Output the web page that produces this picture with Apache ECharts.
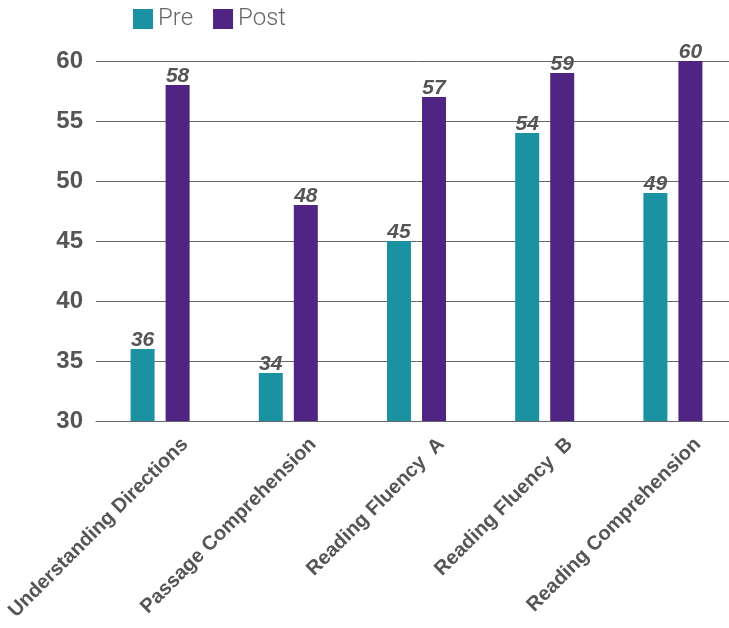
<!DOCTYPE html>
<html><head><meta charset="utf-8">
<script src="https://cdn.jsdelivr.net/npm/echarts@6/dist/echarts.min.js"></script>
<style>html,body{margin:0;padding:0;background:#fff;overflow:hidden}#c{width:737px;height:628px}</style>
</head><body><div id="c"></div>
<script>
const categories = ["Understanding Directions", "Passage Comprehension", "Reading Fluency  A", "Reading Fluency  B", "Reading Comprehension"];
const preValues = [36, 34, 45, 54, 49];
const postValues = [58, 48, 57, 59, 60];
const seriesNames = ["Pre", "Post"];

const chart = echarts.init(document.getElementById('c'), null, {renderer: 'canvas'});
const labelStyle = {show: true, position: 'top', distance: -2, fontFamily: 'Liberation Sans', fontWeight: 'bold', fontStyle: 'italic', fontSize: 21, color: '#555'};
chart.setOption({
  animation: false,
  legend: {
    left: 128, top: 2, itemWidth: 20, itemHeight: 20, itemGap: 20,
    icon: 'rect',
    textStyle: {fontFamily: 'Roboto', fontSize: 24, color: '#666', fontWeight: 300},
    data: seriesNames
  },
  grid: {left: 96, top: 61, right: 0, height: 360, containLabel: false},
  xAxis: {
    type: 'category', data: categories,
    axisLine: {lineStyle: {color: '#666', width: 1}},
    axisTick: {show: false},
    axisLabel: {interval: 0, rotate: 45, margin: 45, padding: [0, -35, 0, 0], fontFamily: 'Liberation Sans', fontWeight: 'bold', fontSize: 20, color: '#555'}
  },
  yAxis: {
    type: 'value', min: 30, max: 60, interval: 5,
    axisLine: {show: false}, axisTick: {show: false},
    splitLine: {lineStyle: {color: '#666', width: 1}},
    axisLabel: {margin: 13, fontFamily: 'Liberation Sans', fontWeight: 'bold', fontSize: 24, color: '#555'}
  },
  series: [
    {name: 'Pre', type: 'bar', data: preValues, barWidth: 24, barGap: '46%', itemStyle: {color: '#1B92A2'}, label: labelStyle},
    {name: 'Post', type: 'bar', data: postValues, barWidth: 24, itemStyle: {color: '#502482'}, label: labelStyle}
  ]
});
</script></body></html>
